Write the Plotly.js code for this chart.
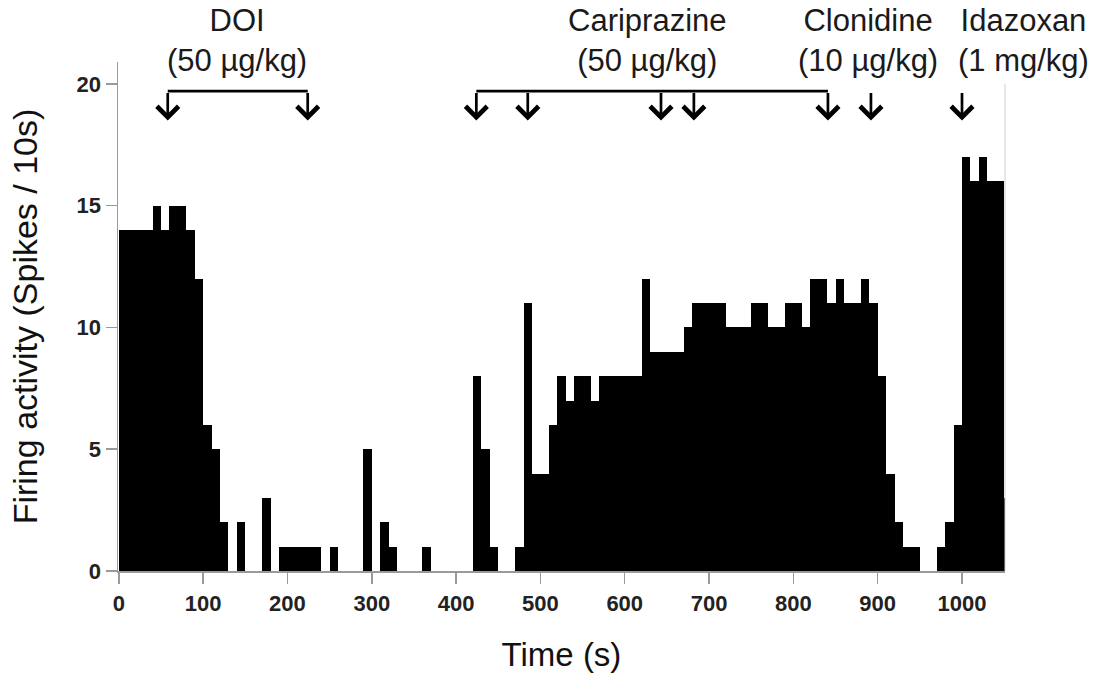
<!DOCTYPE html>
<html>
<head>
<meta charset="utf-8">
<script src="https://cdn.plot.ly/plotly-3.0.1.min.js"></script>
<style>
html, body { margin: 0; padding: 0; background: #ffffff; }
#chart { width: 1097px; height: 674px; }
</style>
</head>
<body>
<div id="chart"></div>
<script>
// ---- data (10 s bins) ----
const binStart = [
  0, 10, 20, 30, 40, 50, 60, 70, 80, 90,
  100, 110, 120, 130, 140, 150, 160, 170, 180, 190,
  200, 210, 220, 230, 240, 250, 260, 270, 280, 290,
  300, 310, 320, 330, 340, 350, 360, 370, 380, 390,
  400, 410, 420, 430, 440, 450, 460, 470, 480, 490,
  500, 510, 520, 530, 540, 550, 560, 570, 580, 590,
  600, 610, 620, 630, 640, 650, 660, 670, 680, 690,
  700, 710, 720, 730, 740, 750, 760, 770, 780, 790,
  800, 810, 820, 830, 840, 850, 860, 870, 880, 890,
  900, 910, 920, 930, 940, 950, 960, 970, 980, 990,
  1000, 1010, 1020, 1030, 1040, 1050
];
const spikeCounts = [
  14, 14, 14, 14, 15, 14, 15, 15, 14, 12,
  6, 5, 2, 0, 2, 0, 0, 3, 0, 1,
  1, 1, 1, 1, 0, 1, 0, 0, 0, 5,
  0, 2, 1, 0, 0, 0, 1, 0, 0, 0,
  0, 0, 8, 5, 1, 0, 0, 1, 11, 4,
  4, 6, 8, 7, 8, 8, 7, 8, 8, 8,
  8, 8, 12, 9, 9, 9, 9, 10, 11, 11,
  11, 11, 10, 10, 10, 11, 11, 10, 10, 11,
  11, 10, 12, 12, 11, 12, 11, 11, 12, 11,
  8, 4, 2, 1, 1, 0, 0, 1, 2, 6,
  17, 16, 17, 16, 16, 3
];

// injection times (s)
const doiTimes = [58, 224];
const cariprazineTimes = [424, 485, 643, 682, 841];
const clonidineTimes = [892];
const idazoxanTimes = [1000];

// drug labels
const drugNames = ["DOI", "Cariprazine", "Clonidine", "Idazoxan"];
const drugDoses = ["(50 µg/kg)", "(50 µg/kg)", "(10 µg/kg)", "(1 mg/kg)"];

// axis ticks
const xTickValues = [0, 100, 200, 300, 400, 500, 600, 700, 800, 900, 1000];
const yTickValues = [0, 5, 10, 15, 20];

// ---- styling / layout ----
const FONT = "'Liberation Sans', Arial, Helvetica, sans-serif";
const labelCentersPaper = [0.134, 0.597, 0.845, 1.021]; // label centres (paper x)
const arrowTipY = 18.5;      // data units
const bracketY = 19.7;       // data units
const arrowTailPx = -29;     // pixel offset from tip to tail

const annotations = [];
const shapes = [];

// drug text labels (name + dose on two lines)
drugNames.forEach((name, i) => {
  annotations.push({
    x: labelCentersPaper[i], xref: 'paper', y: 1.043, yref: 'paper',
    text: name + '<br>' + drugDoses[i], showarrow: false,
    xanchor: 'center', yanchor: 'middle', align: 'center', borderpad: 0,
    font: { family: FONT, size: 31, color: '#1a1a1a' }
  });
});

// arrows
[doiTimes, cariprazineTimes, clonidineTimes, idazoxanTimes].forEach(group => {
  group.forEach(t => {
    annotations.push({
      x: t, y: arrowTipY, xref: 'x', yref: 'y',
      text: '', showarrow: true, ax: 0, ay: arrowTailPx,
      arrowhead: 4, arrowsize: 1.55, arrowwidth: 2.7, arrowcolor: '#000000',
      standoff: 0
    });
  });
});

// brackets linking repeated injections
[doiTimes, cariprazineTimes].forEach(group => {
  shapes.push({
    type: 'line', xref: 'x', yref: 'y',
    x0: group[0], x1: group[group.length - 1], y0: bracketY, y1: bracketY,
    line: { color: '#000000', width: 2.7 }
  });
});

// faint right frame line
shapes.push({
  type: 'line', xref: 'paper', yref: 'y',
  x0: 1, x1: 1, y0: 0, y1: 20,
  line: { color: '#d0d0d0', width: 1 }
});

const trace = {
  type: 'bar',
  x: binStart,
  y: spikeCounts,
  width: 10,
  offset: 0,
  marker: { color: '#000000', line: { width: 0 } },
  hoverinfo: 'x+y'
};

const axisCommon = {
  showgrid: false,
  zeroline: false,
  showline: true,
  linecolor: '#9a9a9a',
  linewidth: 1.5,
  ticks: 'outside',
  ticklen: 11,
  tickwidth: 1.5,
  tickcolor: '#9a9a9a',
  tickfont: { family: FONT, size: 22, color: '#222222', weight: 'bold' }
};

const layout = {
  width: 1097,
  height: 674,
  margin: { l: 118, r: 92, t: 62, b: 103 },
  paper_bgcolor: '#ffffff',
  plot_bgcolor: '#ffffff',
  showlegend: false,
  bargap: 0,
  xaxis: Object.assign({}, axisCommon, {
    range: [-1, 1051],
    tickmode: 'array',
    tickvals: xTickValues,
    ticktext: xTickValues.map(String),
    ticklabelstandoff: 1,
    title: { text: 'Time (s)', font: { family: FONT, size: 33, color: '#111111' }, standoff: 28 }
  }),
  yaxis: Object.assign({}, axisCommon, {
    range: [0, 20.9],
    tickmode: 'array',
    tickvals: yTickValues,
    ticktext: yTickValues.map(String),
    title: { text: 'Firing activity (Spikes / 10s)', font: { family: FONT, size: 34, color: '#111111' }, standoff: 28 }
  }),
  annotations: annotations,
  shapes: shapes
};

Plotly.newPlot('chart', [trace], layout, { staticPlot: true, displayModeBar: false });
</script>
</body>
</html>
